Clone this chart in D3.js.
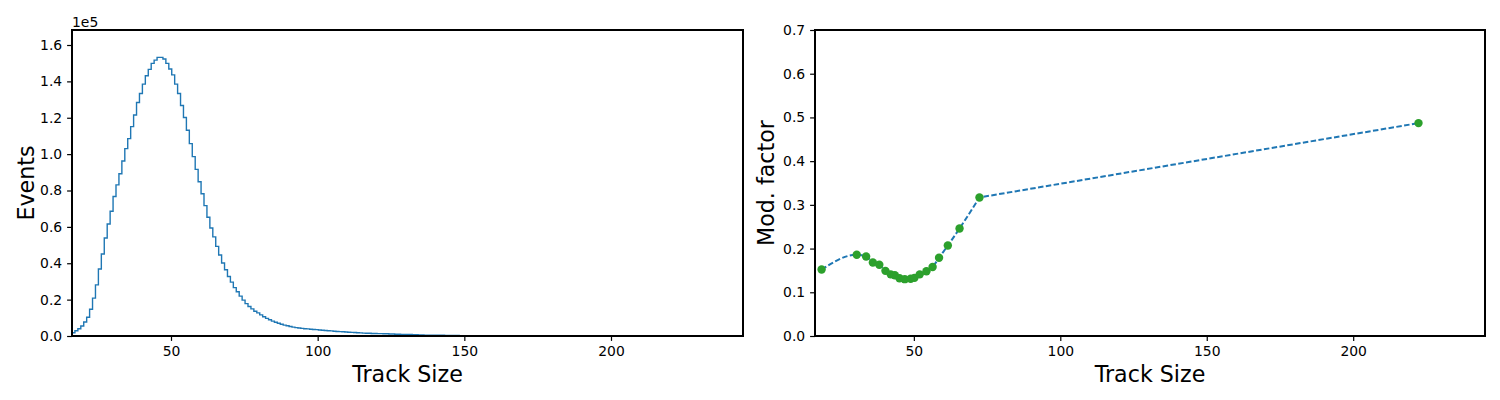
<!DOCTYPE html>
<html>
<head>
<meta charset="utf-8">
<script src="https://cdn.jsdelivr.net/npm/d3@7"></script>
<style>
  body { margin: 0; background: #fff; }
  svg text { font-family: "DejaVu Sans", sans-serif; fill: #000; }
</style>
</head>
<body>
<svg width="1500" height="400"></svg>
<script>
// histogram: bins of width 1 starting at trackStart
var trackStart = 16.25, trackWidth = 1;
var events = [
  1800, 2900, 4000, 5500, 7700, 10300, 14700, 20800, 28100, 36800,
  45100, 53900, 61600, 68600, 76700, 83100, 89200, 96200, 103000, 108500,
  115100, 121500, 128400, 133300, 138500, 143100, 146600, 149900, 151700, 153200,
  153200, 152300, 149900, 146800, 143600, 138500, 133300, 126700, 120100, 113100,
  105800, 98600, 91600, 84800, 78200, 71700, 65300, 59400, 54500, 49300,
  44500, 40100, 36400, 32700, 29600, 26600, 24300, 21900, 19700, 17800,
  16200, 14900, 13600, 12700, 11600, 10600, 9700, 8900, 8200, 7600,
  7000, 6500, 6000, 5600, 5200, 4900, 4600, 4400, 4200, 4000,
  3900, 3700, 3600, 3500, 3300, 3200, 3000, 2900, 2800, 2600,
  2500, 2400, 2300, 2200, 2100, 2000, 1900, 1800, 1700, 1600,
  1500, 1500, 1400, 1400, 1300, 1300, 1200, 1200, 1100, 1100,
  1000, 1000, 900, 900, 800, 800, 700, 700, 600, 600,
  500, 500, 500, 400, 400, 400, 400, 300, 300, 300,
  300, 300, 200, 200, 200, 200, 200, 200, 200, 100,
  100, 100, 100, 100, 100, 100, 100, 100, 100, 100,
  100, 100, 100, 100, 100, 100, 100, 100
];
var xTicks = [50, 100, 150, 200];
var eventTicks = [0, 0.2e5, 0.4e5, 0.6e5, 0.8e5, 1.0e5, 1.2e5, 1.4e5, 1.6e5];

// modulation factor per track size
var modX = [18.5, 30.5, 33.7, 36.0, 38.2, 40.3, 42.1, 43.5, 45.1, 46.9,
            48.9, 50.2, 52.0, 54.3, 56.4, 58.6, 61.6, 65.6, 72.4, 222.3];
var modY = [0.152, 0.186, 0.182, 0.168, 0.163, 0.149, 0.141, 0.139, 0.132, 0.130,
            0.131, 0.133, 0.141, 0.148, 0.158, 0.179, 0.207, 0.246, 0.317, 0.487];
var modTicks = [0, 0.1, 0.2, 0.3, 0.4, 0.5, 0.6, 0.7];

var svg = d3.select('svg');
var top_ = 30, bottom = 336;
var xDomain = [16.25, 245];

function frame(g, x, y, yTicks, yFmt, ylab, ylabX) {
  var x0 = x.range()[0], x1 = x.range()[1];
  g.append('g').attr('transform', 'translate(0,' + bottom + ')')
    .call(d3.axisBottom(x).tickValues(xTicks).tickSize(4.9).tickPadding(4.9).tickFormat(d3.format('d')))
    .call(function (a) { a.select('.domain').remove(); });
  g.append('g').attr('transform', 'translate(' + x0 + ',0)')
    .call(d3.axisLeft(y).tickValues(yTicks).tickSize(4.9).tickPadding(4.9).tickFormat(yFmt))
    .call(function (a) { a.select('.domain').remove(); });
  g.selectAll('.tick line').attr('stroke', '#000').attr('stroke-width', 1.2);
  g.selectAll('.tick text').style('font-size', '13.9px').attr('fill', '#000');
  g.append('rect')
    .attr('x', x0).attr('y', top_).attr('width', x1 - x0).attr('height', bottom - top_)
    .attr('fill', 'none').attr('stroke', '#000').attr('stroke-width', 1.3)
    .attr('shape-rendering', 'crispEdges');
  g.append('text')
    .attr('x', (x0 + x1) / 2).attr('y', 381.5)
    .attr('text-anchor', 'middle').style('font-size', '22.2px')
    .text('Track Size');
  g.append('text')
    .attr('transform', 'translate(' + ylabX + ',' + (top_ + bottom) / 2 + ') rotate(-90)')
    .attr('text-anchor', 'middle').style('font-size', '22.2px')
    .text(ylab);
}

/* ----------- left: histogram ----------- */
var xL = d3.scaleLinear().domain(xDomain).range([72, 743]);
var yL = d3.scaleLinear().domain([0, 1.6825e5]).range([bottom, top_]);
var left = svg.append('g');

var stepPts = [[trackStart, 0]];
events.forEach(function (c, i) {
  stepPts.push([trackStart + i * trackWidth, c]);
  stepPts.push([trackStart + (i + 1) * trackWidth, c]);
});
stepPts.push([trackStart + events.length * trackWidth, 0]);

left.append('path')
  .datum(stepPts)
  .attr('fill', 'none')
  .attr('stroke', '#1f77b4')
  .attr('stroke-width', 1.4)
  .attr('d', d3.line().x(function (d) { return xL(d[0]); }).y(function (d) { return yL(d[1]); }));

frame(left, xL, yL, eventTicks, function (d) { return (d / 1e5).toFixed(1); }, 'Events', 34);
left.append('text').attr('x', 72).attr('y', 26.5).style('font-size', '13.9px').text('1e5');

/* ----------- right: modulation factor ----------- */
var xR = d3.scaleLinear().domain(xDomain).range([815, 1485]);
var yR = d3.scaleLinear().domain([0, 0.7]).range([bottom, top_]);
var right = svg.append('g');
var pts = modX.map(function (d, i) { return [d, modY[i]]; });
var nCurve = pts.length - 1;

var curveLine = d3.line().curve(d3.curveMonotoneX)
  .x(function (d) { return xR(d[0]); }).y(function (d) { return yR(d[1]); });
var straight = d3.line()
  .x(function (d) { return xR(d[0]); }).y(function (d) { return yR(d[1]); });

right.append('path')
  .attr('fill', 'none').attr('stroke', '#1f77b4').attr('stroke-width', 2)
  .attr('stroke-dasharray', '5.5,2.4')
  .attr('d', curveLine(pts.slice(0, nCurve)) + straight(pts.slice(nCurve - 1)).replace('M', 'L'));

right.selectAll('circle').data(pts).enter().append('circle')
  .attr('cx', function (d) { return xR(d[0]); })
  .attr('cy', function (d) { return yR(d[1]); })
  .attr('r', 4.2)
  .attr('fill', '#2ca02c');

frame(right, xR, yR, modTicks, d3.format('.1f'), 'Mod. factor', 774);
</script>
</body>
</html>
